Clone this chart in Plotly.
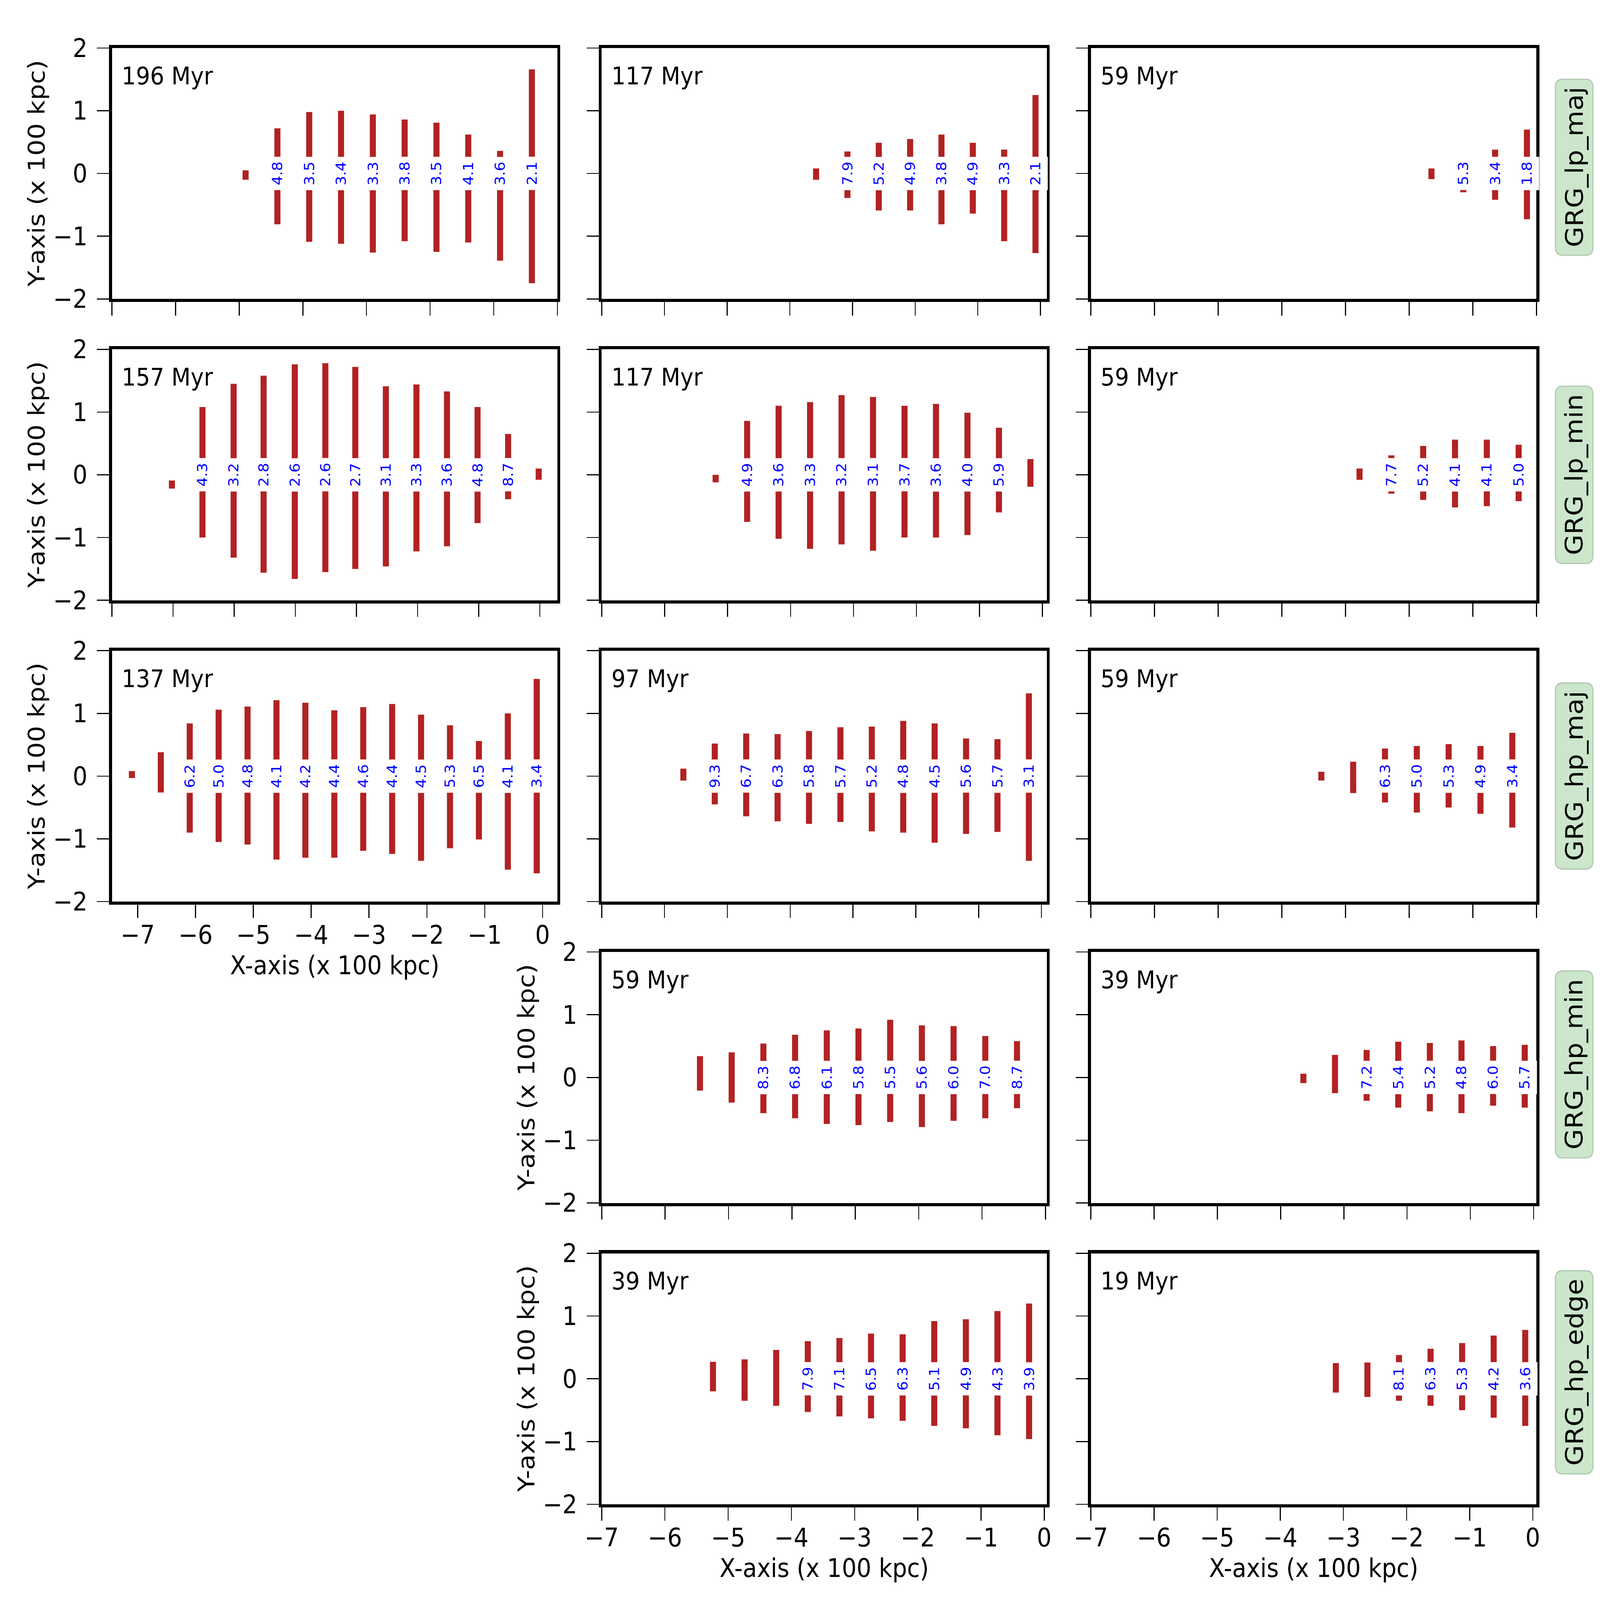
import plotly.graph_objects as go

# ---------------- data (x in 100 kpc, bar top/bottom in 100 kpc, value labels) ----------------
ROW_NAMES = ["GRG_lp_maj", "GRG_lp_min", "GRG_hp_maj", "GRG_hp_min", "GRG_hp_edge"]

A_TIME = "196 Myr"
A_X = [-4.9, -4.4, -3.9, -3.4, -2.9, -2.4, -1.9, -1.4, -0.9, -0.4]
A_TOP = [0.05, 0.72, 0.98, 1.00, 0.94, 0.86, 0.81, 0.62, 0.36, 1.66]
A_BOT = [-0.10, -0.81, -1.09, -1.12, -1.26, -1.08, -1.25, -1.10, -1.39, -1.75]
A_LAB = [None, "4.8", "3.5", "3.4", "3.3", "3.8", "3.5", "4.1", "3.6", "2.1"]

B_TIME = "117 Myr"
B_X = [-3.58, -3.08, -2.58, -2.08, -1.58, -1.08, -0.58, -0.08]
B_TOP = [0.08, 0.35, 0.49, 0.55, 0.62, 0.49, 0.38, 1.25]
B_BOT = [-0.10, -0.39, -0.59, -0.59, -0.81, -0.64, -1.08, -1.27]
B_LAB = [None, "7.9", "5.2", "4.9", "3.8", "4.9", "3.3", "2.1"]

C_TIME = "59 Myr"
C_X = [-1.65, -1.15, -0.65, -0.15]
C_TOP = [0.08, 0.20, 0.38, 0.70]
C_BOT = [-0.09, -0.30, -0.42, -0.73]
C_LAB = [None, "5.3", "3.4", "1.8"]

D_TIME = "157 Myr"
D_X = [-6.02, -5.52, -5.01, -4.52, -4.01, -3.51, -3.02, -2.52, -2.02, -1.52, -1.02, -0.52, -0.02]
D_TOP = [-0.09, 1.08, 1.45, 1.58, 1.76, 1.78, 1.72, 1.41, 1.44, 1.33, 1.08, 0.65, 0.10]
D_BOT = [-0.22, -1.00, -1.32, -1.56, -1.66, -1.55, -1.50, -1.46, -1.22, -1.14, -0.77, -0.39, -0.08]
D_LAB = [None, "4.3", "3.2", "2.8", "2.6", "2.6", "2.7", "3.1", "3.3", "3.6", "4.8", "8.7", None]

E_TIME = "117 Myr"
E_X = [-5.19, -4.69, -4.19, -3.69, -3.19, -2.69, -2.19, -1.69, -1.19, -0.69, -0.19]
E_TOP = [0.00, 0.86, 1.10, 1.16, 1.27, 1.24, 1.10, 1.13, 0.99, 0.75, 0.25]
E_BOT = [-0.12, -0.75, -1.02, -1.18, -1.11, -1.21, -1.00, -1.00, -0.96, -0.60, -0.19]
E_LAB = [None, "4.9", "3.6", "3.3", "3.2", "3.1", "3.7", "3.6", "4.0", "5.9", None]

F_TIME = "59 Myr"
F_X = [-2.78, -2.28, -1.78, -1.28, -0.78, -0.28]
F_TOP = [0.10, 0.31, 0.46, 0.56, 0.56, 0.48]
F_BOT = [-0.08, -0.30, -0.40, -0.52, -0.50, -0.42]
F_LAB = [None, "7.7", "5.2", "4.1", "4.1", "5.0"]

G_TIME = "137 Myr"
G_X = [-7.1, -6.6, -6.1, -5.6, -5.1, -4.6, -4.1, -3.6, -3.1, -2.6, -2.1, -1.6, -1.1, -0.6, -0.1]
G_TOP = [0.08, 0.38, 0.84, 1.06, 1.11, 1.21, 1.17, 1.05, 1.10, 1.15, 0.98, 0.81, 0.56, 1.00, 1.55]
G_BOT = [-0.03, -0.26, -0.90, -1.05, -1.09, -1.33, -1.30, -1.30, -1.19, -1.24, -1.35, -1.15, -1.01, -1.49, -1.55]
G_LAB = [None, None, "6.2", "5.0", "4.8", "4.1", "4.2", "4.4", "4.6", "4.4", "4.5", "5.3", "6.5", "4.1", "3.4"]

H_TIME = "97 Myr"
H_X = [-5.70, -5.20, -4.70, -4.20, -3.70, -3.20, -2.70, -2.20, -1.70, -1.20, -0.70, -0.20]
H_TOP = [0.12, 0.52, 0.68, 0.67, 0.72, 0.78, 0.79, 0.88, 0.84, 0.60, 0.59, 1.32]
H_BOT = [-0.07, -0.45, -0.64, -0.72, -0.76, -0.73, -0.88, -0.90, -1.06, -0.92, -0.89, -1.35]
H_LAB = [None, "9.3", "6.7", "6.3", "5.8", "5.7", "5.2", "4.8", "4.5", "5.6", "5.7", "3.1"]

I_TIME = "59 Myr"
I_X = [-3.38, -2.88, -2.38, -1.88, -1.38, -0.88, -0.38]
I_TOP = [0.07, 0.23, 0.44, 0.48, 0.51, 0.48, 0.69]
I_BOT = [-0.07, -0.27, -0.42, -0.58, -0.50, -0.60, -0.82]
I_LAB = [None, None, "6.3", "5.0", "5.3", "4.9", "3.4"]

J_TIME = "59 Myr"
J_X = [-5.45, -4.95, -4.45, -3.95, -3.45, -2.95, -2.45, -1.95, -1.45, -0.95, -0.45]
J_TOP = [0.34, 0.40, 0.54, 0.68, 0.75, 0.78, 0.92, 0.83, 0.82, 0.66, 0.58]
J_BOT = [-0.21, -0.40, -0.57, -0.65, -0.74, -0.76, -0.71, -0.79, -0.69, -0.65, -0.49]
J_LAB = [None, None, "8.3", "6.8", "6.1", "5.8", "5.5", "5.6", "6.0", "7.0", "8.7"]

K_TIME = "39 Myr"
K_X = [-3.64, -3.14, -2.64, -2.14, -1.64, -1.14, -0.64, -0.14]
K_TOP = [0.06, 0.36, 0.44, 0.57, 0.55, 0.59, 0.50, 0.52]
K_BOT = [-0.09, -0.25, -0.37, -0.48, -0.54, -0.57, -0.45, -0.48]
K_LAB = [None, None, "7.2", "5.4", "5.2", "4.8", "6.0", "5.7"]

L_TIME = "39 Myr"
L_X = [-5.24, -4.74, -4.24, -3.74, -3.24, -2.74, -2.24, -1.74, -1.24, -0.74, -0.24]
L_TOP = [0.27, 0.31, 0.46, 0.60, 0.65, 0.72, 0.71, 0.92, 0.95, 1.08, 1.20]
L_BOT = [-0.20, -0.35, -0.43, -0.53, -0.60, -0.63, -0.67, -0.75, -0.79, -0.90, -0.96]
L_LAB = [None, None, None, "7.9", "7.1", "6.5", "6.3", "5.1", "4.9", "4.3", "3.9"]

M_TIME = "19 Myr"
M_X = [-3.12, -2.62, -2.12, -1.62, -1.12, -0.62, -0.12]
M_TOP = [0.25, 0.26, 0.38, 0.48, 0.57, 0.69, 0.78]
M_BOT = [-0.22, -0.29, -0.35, -0.43, -0.50, -0.62, -0.75]
M_LAB = [None, None, "8.1", "6.3", "5.3", "4.2", "3.6"]

X_TICKS = [-7, -6, -5, -4, -3, -2, -1, 0]
Y_TICKS = [-2, -1, 0, 1, 2]
X_TITLE = "X-axis (x 100 kpc)"
Y_TITLE = "Y-axis (x 100 kpc)"

# ---------------- layout / style ----------------
W, H = 6600, 6000
COL_PX = [(462, 2299), (2482, 4318), (4500, 6338)]
ROW_PX = [(180, 1121), (1310, 2251), (2440, 3381), (3570, 4511), (4700, 5641)]
FONT = "DejaVu Sans"
RED = "#b22222"
BAR_PX = 25

panels = [
    (1, 1, [-7, 0], A_TIME, A_X, A_TOP, A_BOT, A_LAB),
    (1, 2, [-7, 0.1], B_TIME, B_X, B_TOP, B_BOT, B_LAB),
    (1, 3, [-7, 0], C_TIME, C_X, C_TOP, C_BOT, C_LAB),
    (2, 1, [-7, 0.285], D_TIME, D_X, D_TOP, D_BOT, D_LAB),
    (2, 2, [-7, 0.07], E_TIME, E_X, E_TOP, E_BOT, E_LAB),
    (2, 3, [-7, 0], F_TIME, F_X, F_TOP, F_BOT, F_LAB),
    (3, 1, [-7.444, 0.256], G_TIME, G_X, G_TOP, G_BOT, G_LAB),
    (3, 2, [-7, 0.085], H_TIME, H_X, H_TOP, H_BOT, H_LAB),
    (3, 3, [-7, 0], I_TIME, I_X, I_TOP, I_BOT, I_LAB),
    (4, 2, [-7, 0.02], J_TIME, J_X, J_TOP, J_BOT, J_LAB),
    (4, 3, [-7, 0.046], K_TIME, K_X, K_TOP, K_BOT, K_LAB),
    (5, 2, [-7, 0.04], L_TIME, L_X, L_TOP, L_BOT, L_LAB),
    (5, 3, [-7, 0.058], M_TIME, M_X, M_TOP, M_BOT, M_LAB),
]
YLABEL_PANELS = {(1, 1), (2, 1), (3, 1), (4, 2), (5, 2)}
XLABEL_PANELS = {(3, 1), (5, 2), (5, 3)}

STRIPS = [
    (6416, 297, 6571, 957),
    (6416, 1448, 6571, 2113),
    (6416, 2561, 6571, 3259),
    (6416, 3641, 6571, 4342),
    (6416, 4765, 6571, 5527),
]


def px2x(v):
    return v / W


def px2y(v):
    return 1 - v / H


fig = go.Figure()
layout = dict(
    width=W, height=H, margin=dict(l=0, r=0, t=0, b=0, autoexpand=False),
    paper_bgcolor="white", plot_bgcolor="white", showlegend=False,
    font=dict(family=FONT, size=96, color="black"),
)
annotations = []
shapes = []

for i, (r, c, xr, tlabel, xs, tops, bots, labs) in enumerate(panels, start=1):
    sfx = "" if i == 1 else str(i)
    xa, ya = "x" + sfx, "y" + sfx
    x0, x1 = COL_PX[c - 1]
    y0, y1 = ROW_PX[r - 1]
    ppu = (x1 - x0) / (xr[1] - xr[0])
    fig.add_trace(go.Bar(
        x=xs, y=[t - b for t, b in zip(tops, bots)], base=bots,
        width=BAR_PX / ppu, marker=dict(color=RED, line=dict(width=0)),
        xaxis=xa, yaxis=ya, hoverinfo="skip",
    ))
    common = dict(showline=True, linewidth=12, linecolor="black", mirror=True,
                  ticks="outside", ticklen=50, tickwidth=4, tickcolor="black",
                  showgrid=False, zeroline=False, fixedrange=True,
                  tickfont=dict(family=FONT, size=96, color="black"))
    layout["xaxis" + sfx] = dict(domain=[px2x(x0), px2x(x1)], range=xr, anchor=ya,
                                 tickvals=X_TICKS, showticklabels=(r, c) in XLABEL_PANELS,
                                 ticklabelstandoff=-19, **common)
    layout["yaxis" + sfx] = dict(domain=[px2y(y1), px2y(y0)], range=[-2, 2], anchor=xa,
                                 tickvals=Y_TICKS, showticklabels=(r, c) in YLABEL_PANELS,
                                 ticklabelstandoff=20, **common)
    annotations.append(dict(text=tlabel, xref=xa + " domain", yref=ya + " domain",
                            x=0.0205, y=0.889, xanchor="left", yanchor="middle",
                            showarrow=False, font=dict(family=FONT, size=92, color="black")))
    for xv, lab in zip(xs, labs):
        if lab:
            annotations.append(dict(text=lab, x=xv, y=0, xref=xa, yref=ya,
                                    textangle=-90, showarrow=False, bgcolor="white",
                                    borderpad=18, borderwidth=0,
                                    xanchor="center", yanchor="middle",
                                    font=dict(family=FONT, size=56, color="blue")))
    if (r, c) in YLABEL_PANELS:
        annotations.append(dict(text=Y_TITLE, xref="paper", yref="paper",
                                x=px2x(x0 - 311), y=px2y((y0 + y1) / 2), textangle=-90,
                                xanchor="center", yanchor="middle", showarrow=False,
                                font=dict(family=FONT, size=96, color="black")))
    if (r, c) in XLABEL_PANELS:
        annotations.append(dict(text=X_TITLE, xref="paper", yref="paper",
                                x=px2x((x0 + x1) / 2), y=px2y(y1 + 239),
                                xanchor="center", yanchor="middle", showarrow=False,
                                font=dict(family=FONT, size=96, color="black")))

for name, (sx0, sy0, sx1, sy1) in zip(ROW_NAMES, STRIPS):
    rad = 30
    pts = [
        ("M", sx0 + rad, sy0), ("L", sx1 - rad, sy0), ("Q", sx1, sy0, sx1, sy0 + rad),
        ("L", sx1, sy1 - rad), ("Q", sx1, sy1, sx1 - rad, sy1), ("L", sx0 + rad, sy1),
        ("Q", sx0, sy1, sx0, sy1 - rad), ("L", sx0, sy0 + rad), ("Q", sx0, sy0, sx0 + rad, sy0),
    ]
    path = ""
    for p in pts:
        coords = p[1:]
        s = [f"{px2x(coords[k]):.6f},{px2y(coords[k + 1]):.6f}" for k in range(0, len(coords), 2)]
        path += p[0] + " " + " ".join(s) + " "
    path += "Z"
    shapes.append(dict(type="path", path=path, xref="paper", yref="paper",
                       fillcolor="#cce6cc", line=dict(color="#a9c4a9", width=4), layer="above"))
    annotations.append(dict(text=name, xref="paper", yref="paper",
                            x=px2x((sx0 + sx1) / 2), y=px2y((sy0 + sy1) / 2), textangle=-90,
                            xanchor="center", yanchor="middle", showarrow=False,
                            font=dict(family=FONT, size=100, color="black")))

layout["annotations"] = annotations
layout["shapes"] = shapes
layout["barmode"] = "overlay"
fig.update_layout(**layout)

# The page is authored at 6600x6000; if the browser viewport turns out to be a
# different size, scale the whole figure so that it fills the viewport exactly.
FIT_SCRIPT = (
    "document.documentElement.style.margin='0';document.body.style.margin='0';"
    "document.body.style.overflow='hidden';"
    "var d=document.getElementById('{plot_id}');"
    "var sx=window.innerWidth/%d, sy=window.innerHeight/%d;"
    "if(Math.abs(sx-1)>0.001||Math.abs(sy-1)>0.001){"
    "d.style.transformOrigin='0 0';d.style.transform='scale('+sx+','+sy+')';}"
) % (W, H)
fig.write_html("out.html", post_script=FIT_SCRIPT,
               config={"displayModeBar": False, "staticPlot": True})
